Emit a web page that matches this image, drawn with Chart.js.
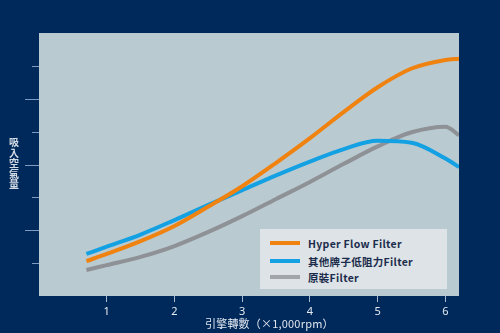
<!DOCTYPE html>
<html>
<head>
  <title>Air Intake Chart</title>
  <script src="https://cdn.jsdelivr.net/npm/chart.js"></script>
  <style>
    body {
      margin: 0;
      background: #00295b;
      font-family: 'Noto Sans CJK TC', 'Noto Sans', sans-serif;
    }
    .wrap {
      position: relative;
      width: 500px;
      height: 333px;
    }
    canvas { display: block; }
    .y-title {
      position: absolute;
      left: 8px;
      top: 137px;
      width: 12px;
      display: flex;
      flex-direction: column;
      align-items: center;
      font-size: 10px;
      line-height: 10.6px;
      font-weight: 700;
      color: #d3dbe5;
    }
    .y-title span { display: block; height: 10.6px; }
    .x-title {
      position: absolute;
      left: 205px;
      top: 315px;
      font-size: 11px;
      color: #dfe6ee;
      letter-spacing: 0.2px;
      white-space: nowrap;
    }
    .legend {
      position: absolute;
      left: 260px;
      top: 229px;
      width: 187px;
      height: 60px;
      background: #dde3e6;
    }
    .legend .row {
      position: absolute;
      left: 10px;
      height: 16px;
      display: flex;
      align-items: center;
      font-size: 10.5px;
      font-weight: 600;
      color: #1b2b4b;
      letter-spacing: 0.3px;
      white-space: nowrap;
    }
    .legend .swatch {
      width: 30px;
      height: 4px;
      margin-right: 8px;
    }
  </style>
</head>
<body>
<div class="wrap">
  <canvas id="chart" width="500" height="333"></canvas>
  <div class="y-title" id="ytitle"></div>
  <div class="x-title">引擎轉數（×1,000rpm）</div>
  <div class="legend" id="legend"></div>
</div>
<script>
  // ==== Data ====
  const rpm = [0.7, 1, 1.5, 2, 2.5, 3, 3.5, 4, 4.5, 5, 5.5, 6, 6.2];
  const hyperFlow = [1.06, 1.28, 1.67, 2.13, 2.72, 3.34, 4.05, 4.80, 5.60, 6.35, 6.92, 7.18, 7.22];
  const otherBrand = [1.28, 1.50, 1.87, 2.31, 2.77, 3.22, 3.67, 4.09, 4.47, 4.72, 4.66, 4.18, 3.92];
  const stock = [0.79, 0.94, 1.19, 1.52, 1.95, 2.43, 2.95, 3.47, 4.02, 4.55, 4.98, 5.15, 4.89];
  const seriesNames = ['Hyper Flow Filter', '其他牌子低阻力Filter', '原裝Filter'];
  const seriesColors = ['#f0820f', '#13a1e3', '#8e9195'];
  const xTicks = [1, 2, 3, 4, 5, 6];
  const yTicks = [1, 2, 3, 4, 5, 6, 7];
  const yTitle = '吸入空氣量';

  const toPoints = vals => vals.map((v, i) => ({ x: rpm[i], y: v }));
  const allSeries = [hyperFlow, otherBrand, stock];

  // plot background
  const plotBg = {
    id: 'plotBg',
    beforeDraw(chart) {
      const { ctx, chartArea: a } = chart;
      ctx.save();
      ctx.fillStyle = '#bacad1';
      ctx.fillRect(a.left, a.top, a.right - a.left, a.bottom - a.top);
      ctx.restore();
    }
  };

  // y ticks: alternating short / long marks left of the plot
  const yMarks = {
    id: 'yMarks',
    afterDraw(chart) {
      const { ctx, chartArea: a, scales } = chart;
      ctx.save();
      ctx.strokeStyle = '#7f9cc0';
      ctx.lineWidth = 1;
      yTicks.forEach(v => {
        const y = Math.round(scales.y.getPixelForValue(v)) + 0.5;
        const len = v % 2 === 0 ? 14 : 7;
        ctx.beginPath();
        ctx.moveTo(a.left - len, y);
        ctx.lineTo(a.left, y);
        ctx.stroke();
      });
      ctx.restore();
    }
  };

  new Chart(document.getElementById('chart'), {
    type: 'line',
    data: {
      datasets: allSeries.map((vals, i) => ({
        label: seriesNames[i],
        data: toPoints(vals),
        borderColor: seriesColors[i],
        borderWidth: 4,
        pointRadius: 0,
        fill: false,
        cubicInterpolationMode: 'monotone',
        borderCapStyle: 'butt'
      }))
    },
    options: {
      responsive: false,
      animation: false,
      layout: { padding: { left: 39, right: 41, top: 33, bottom: 0 } },
      plugins: {
        legend: { display: false },
        tooltip: { enabled: false }
      },
      scales: {
        x: {
          type: 'linear',
          min: 0,
          max: 6.2,
          afterBuildTicks: s => { s.ticks = xTicks.map(v => ({ value: v })); },
          afterFit: s => { s.height = 37; },
          border: { display: false },
          grid: {
            drawOnChartArea: false,
            tickLength: 6,
            tickColor: '#a9b9cd'
          },
          ticks: {
            padding: 3,
            color: '#e3e9f0',
            font: { size: 11, family: 'Noto Sans' }
          }
        },
        y: {
          display: false,
          min: 0,
          max: 8
        }
      }
    },
    plugins: [plotBg, yMarks]
  });

  // stacked vertical y title
  const yt = document.getElementById('ytitle');
  [...yTitle].forEach(ch => {
    const s = document.createElement('span');
    s.textContent = ch;
    yt.appendChild(s);
  });

  // HTML legend
  const legend = document.getElementById('legend');
  const rowTops = [6, 24, 40];
  seriesNames.forEach((name, i) => {
    const row = document.createElement('div');
    row.className = 'row';
    row.style.top = rowTops[i] + 'px';
    const sw = document.createElement('span');
    sw.className = 'swatch';
    sw.style.background = i === 2 ? '#a3a6a9' : seriesColors[i];
    row.appendChild(sw);
    row.appendChild(document.createTextNode(name));
    legend.appendChild(row);
  });
</script>
</body>
</html>
